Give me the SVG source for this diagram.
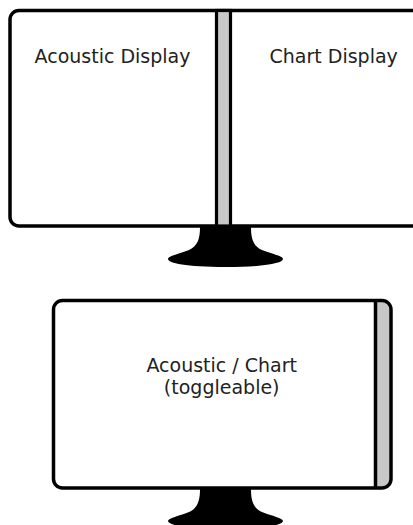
<svg xmlns="http://www.w3.org/2000/svg" width="413" height="525" viewBox="0 0 413 525">
<style>
.frame{fill:none;stroke:#000;stroke-width:3.5}
.bezel{fill:#c8c8c8}
.stand{fill:#000}
.lbl{font-family:"DejaVu Sans","Liberation Sans",sans-serif;font-size:19px;fill:#222}
</style>
<rect width="413" height="525" fill="#fff"/>
<g id="dual-monitor">
  <rect x="10" y="10.5" width="480" height="215.5" rx="9" fill="#fff"/>
  <path class="stand" d="M200,227 L251,227 C251,238 253,246 262,250 C272,254 283,256 283,259 C283,263 265,267 225.5,267 C186,267 168,263 168,259 C168,256 179,254 189,250 C198,246 200,238 200,227 Z"/>
  <rect x="10" y="10.5" width="480" height="215.5" rx="9" class="frame"/>
  <rect x="216.5" y="10.5" width="14" height="215.5" class="bezel" stroke="#000" stroke-width="3.2"/>
  <g id="acoustic-display"><text class="lbl" x="112.5" y="62.5" text-anchor="middle">Acoustic Display</text></g>
  <g id="chart-display"><text class="lbl" x="333.7" y="62.5" text-anchor="middle">Chart Display</text></g>
</g>
<g id="single-monitor">
  <rect x="53.5" y="300.5" width="337.5" height="187.5" rx="9" fill="#fff"/>
  <path class="stand" d="M200,489 L251,489 C251,500 253,508 262,512 C272,516 283,518 283,521 C283,525 265,529 225.5,529 C186,529 168,525 168,521 C168,518 179,516 189,512 C198,508 200,500 200,489 Z"/>
  <path class="bezel" d="M375.5,302 H382 A7.5,7.5 0 0 1 389.5,309.5 V479 A7.5,7.5 0 0 1 382,486.5 H375.5 Z"/>
  <line x1="375.5" y1="300.5" x2="375.5" y2="488" stroke="#000" stroke-width="3.5"/>
  <rect x="53.5" y="300.5" width="337.5" height="187.5" rx="9" class="frame"/>
  <g id="toggle-display">
    <text class="lbl" x="221.7" y="371.5" text-anchor="middle">Acoustic / Chart</text>
    <text class="lbl" x="221.7" y="394.3" text-anchor="middle">(toggleable)</text>
  </g>
</g>
</svg>
